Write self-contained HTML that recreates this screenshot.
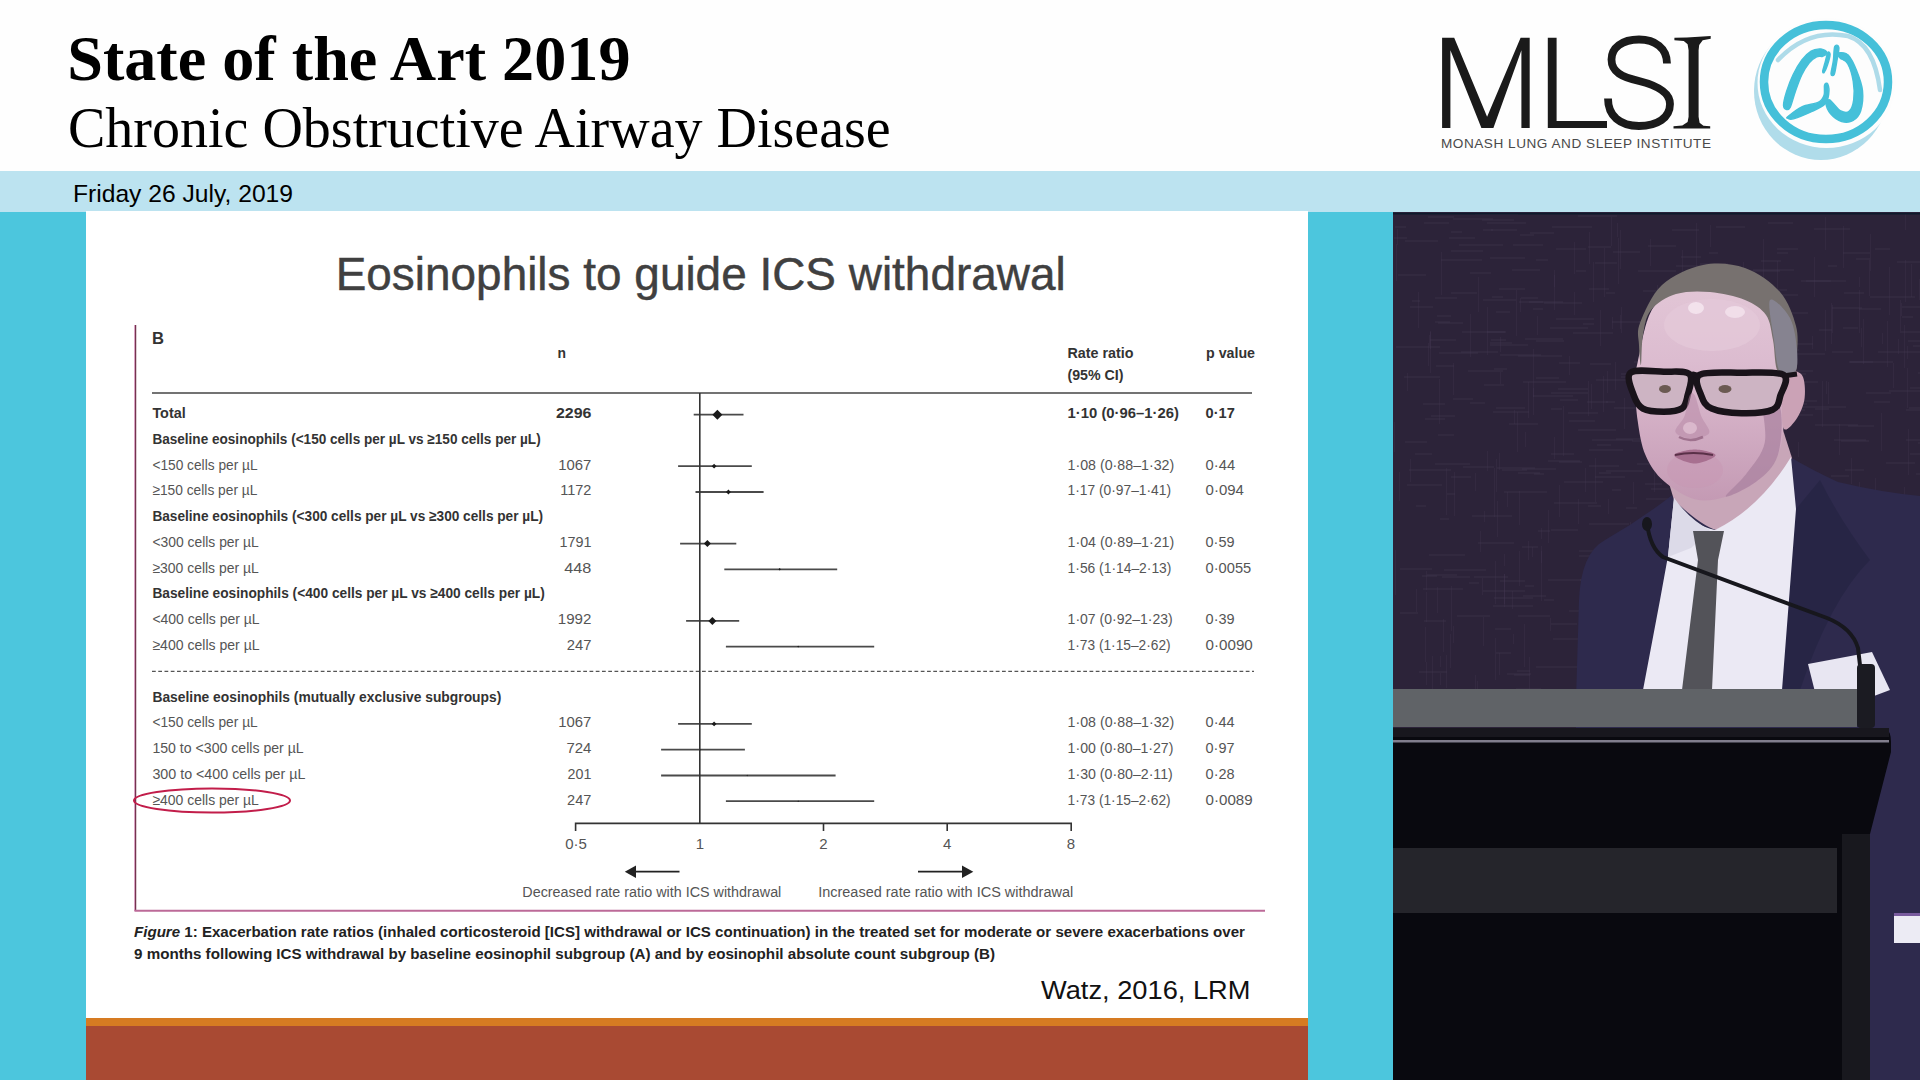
<!DOCTYPE html>
<html><head><meta charset="utf-8">
<style>
html,body{margin:0;padding:0;}
body{width:1920px;height:1080px;overflow:hidden;position:relative;background:#fff;font-family:"Liberation Sans",sans-serif;}
.abs{position:absolute;}
svg{position:absolute;left:0;top:0;}
</style></head><body>
<div class="abs" style="left:0;top:0;width:1920px;height:171px;background:#fefefe"></div>
<div class="abs" style="left:0;top:171px;width:1920px;height:41px;background:#bce3f0"></div>
<div class="abs" style="left:0;top:212px;width:86px;height:868px;background:#4cc6dd"></div>
<div class="abs" style="left:86px;top:211px;width:1222px;height:807px;background:#fff"></div>
<div class="abs" style="left:86px;top:1018px;width:1222px;height:8px;background:#d67b22"></div>
<div class="abs" style="left:86px;top:1026px;width:1222px;height:54px;background:#a94a33"></div>
<div class="abs" style="left:1308px;top:212px;width:85px;height:868px;background:#4cc6dd"></div>
<div class="abs" style="left:1393px;top:212px;width:527px;height:868px;background:#29223a"></div>

<svg width="1920" height="1080" viewBox="0 0 1920 1080">
<text x="67.2" y="80" font-family="Liberation Serif" font-weight="bold" font-size="64.2" fill="#000">State of the Art 2019</text>
<text x="68" y="147.2" font-family="Liberation Serif" font-size="56" fill="#000">Chronic Obstructive Airway Disease</text>
<text x="73" y="201.6" font-family="Liberation Sans" font-size="24.6" fill="#000" textLength="220" lengthAdjust="spacingAndGlyphs">Friday 26 July, 2019</text>
<text x="335.7" y="290.4" font-family="Liberation Sans" font-size="45.5" fill="#404040" textLength="730.0" lengthAdjust="spacingAndGlyphs" stroke="#404040" stroke-width="0.45">Eosinophils to guide ICS withdrawal</text>
<line x1="134.5" y1="325" x2="134.5" y2="911" stroke="#e0aacb" stroke-width="1"/><line x1="135.6" y1="325" x2="135.6" y2="911" stroke="#74344f" stroke-width="1.3"/>
<line x1="134.5" y1="910.8" x2="1265" y2="910.8" stroke="#bc6a98" stroke-width="2"/>
<text x="152.0" y="344.4" font-family="Liberation Sans" font-size="16.5" font-weight="bold" fill="#333" textLength="12.0" lengthAdjust="spacingAndGlyphs">B</text>
<text x="557.5" y="357.8" font-family="Liberation Sans" font-size="15" font-weight="bold" fill="#333" textLength="8.5" lengthAdjust="spacingAndGlyphs">n</text>
<text x="1067.5" y="358.3" font-family="Liberation Sans" font-size="15" font-weight="bold" fill="#333" textLength="66.0" lengthAdjust="spacingAndGlyphs">Rate ratio</text>
<text x="1067.5" y="380.4" font-family="Liberation Sans" font-size="15" font-weight="bold" fill="#333" textLength="56.0" lengthAdjust="spacingAndGlyphs">(95% CI)</text>
<text x="1206.0" y="358.3" font-family="Liberation Sans" font-size="15" font-weight="bold" fill="#333" textLength="49.0" lengthAdjust="spacingAndGlyphs">p value</text>
<line x1="152" y1="393" x2="1252" y2="393" stroke="#444" stroke-width="1.6"/>
<line x1="152" y1="671.4" x2="1254" y2="671.4" stroke="#555" stroke-width="1.4" stroke-dasharray="3.75 2.5"/>
<text x="152.4" y="418.0" font-family="Liberation Sans" font-size="15.2" font-weight="bold" fill="#333" textLength="33.3" lengthAdjust="spacingAndGlyphs">Total</text>
<text x="555.9" y="418.0" font-family="Liberation Sans" font-size="15.2" font-weight="bold" fill="#333" textLength="35.5" lengthAdjust="spacingAndGlyphs">2296</text>
<text x="1067.6" y="418.0" font-family="Liberation Sans" font-size="15.2" font-weight="bold" fill="#333" textLength="111.3" lengthAdjust="spacingAndGlyphs">1·10 (0·96–1·26)</text>
<text x="1205.6" y="418.0" font-family="Liberation Sans" font-size="15.2" font-weight="bold" fill="#333" textLength="29.2" lengthAdjust="spacingAndGlyphs">0·17</text>
<line x1="693.7" y1="414.7" x2="743.5" y2="414.7" stroke="#4a4a4a" stroke-width="1.8"/>
<polygon points="712.4,414.7 717.4,409.7 722.4,414.7 717.4,419.7" fill="#1a1a1a"/>
<text x="152.4" y="443.8" font-family="Liberation Sans" font-size="15.2" font-weight="bold" fill="#333" textLength="388.3" lengthAdjust="spacingAndGlyphs">Baseline eosinophils (&lt;150 cells per µL vs ≥150 cells per µL)</text>
<text x="152.4" y="469.5" font-family="Liberation Sans" font-size="15.2" fill="#555" textLength="105.2" lengthAdjust="spacingAndGlyphs">&lt;150 cells per µL</text>
<text x="558.3" y="469.5" font-family="Liberation Sans" font-size="15.2" fill="#555" textLength="33.1" lengthAdjust="spacingAndGlyphs">1067</text>
<text x="1067.6" y="469.5" font-family="Liberation Sans" font-size="15.2" fill="#555" textLength="106.6" lengthAdjust="spacingAndGlyphs">1·08 (0·88–1·32)</text>
<text x="1205.6" y="469.5" font-family="Liberation Sans" font-size="15.2" fill="#555" textLength="29.5" lengthAdjust="spacingAndGlyphs">0·44</text>
<line x1="678.1" y1="466.2" x2="751.8" y2="466.2" stroke="#4a4a4a" stroke-width="1.8"/>
<polygon points="711.7,466.2 714.1,463.8 716.5,466.2 714.1,468.6" fill="#1a1a1a"/>
<text x="152.4" y="495.3" font-family="Liberation Sans" font-size="15.2" fill="#555" textLength="105.0" lengthAdjust="spacingAndGlyphs">≥150 cells per µL</text>
<text x="560.2" y="495.3" font-family="Liberation Sans" font-size="15.2" fill="#555" textLength="31.2" lengthAdjust="spacingAndGlyphs">1172</text>
<text x="1067.6" y="495.3" font-family="Liberation Sans" font-size="15.2" fill="#555" textLength="103.4" lengthAdjust="spacingAndGlyphs">1·17 (0·97–1·41)</text>
<text x="1205.6" y="495.3" font-family="Liberation Sans" font-size="15.2" fill="#555" textLength="38.3" lengthAdjust="spacingAndGlyphs">0·094</text>
<line x1="695.5" y1="492.0" x2="763.6" y2="492.0" stroke="#4a4a4a" stroke-width="1.8"/>
<polygon points="726.0,492.0 728.4,489.6 730.8,492.0 728.4,494.4" fill="#1a1a1a"/>
<text x="152.4" y="521.1" font-family="Liberation Sans" font-size="15.2" font-weight="bold" fill="#333" textLength="390.7" lengthAdjust="spacingAndGlyphs">Baseline eosinophils (&lt;300 cells per µL vs ≥300 cells per µL)</text>
<text x="152.4" y="546.9" font-family="Liberation Sans" font-size="15.2" fill="#555" textLength="106.4" lengthAdjust="spacingAndGlyphs">&lt;300 cells per µL</text>
<text x="559.4" y="546.9" font-family="Liberation Sans" font-size="15.2" fill="#555" textLength="32.0" lengthAdjust="spacingAndGlyphs">1791</text>
<text x="1067.6" y="546.9" font-family="Liberation Sans" font-size="15.2" fill="#555" textLength="106.6" lengthAdjust="spacingAndGlyphs">1·04 (0·89–1·21)</text>
<text x="1205.6" y="546.9" font-family="Liberation Sans" font-size="15.2" fill="#555" textLength="28.9" lengthAdjust="spacingAndGlyphs">0·59</text>
<line x1="680.1" y1="543.6" x2="736.3" y2="543.6" stroke="#4a4a4a" stroke-width="1.8"/>
<polygon points="703.9,543.6 707.4,540.1 710.9,543.6 707.4,547.1" fill="#1a1a1a"/>
<text x="152.4" y="572.6" font-family="Liberation Sans" font-size="15.2" fill="#555" textLength="106.4" lengthAdjust="spacingAndGlyphs">≥300 cells per µL</text>
<text x="564.3" y="572.6" font-family="Liberation Sans" font-size="15.2" fill="#555" textLength="27.1" lengthAdjust="spacingAndGlyphs">448</text>
<text x="1067.6" y="572.6" font-family="Liberation Sans" font-size="15.2" fill="#555" textLength="103.8" lengthAdjust="spacingAndGlyphs">1·56 (1·14–2·13)</text>
<text x="1205.6" y="572.6" font-family="Liberation Sans" font-size="15.2" fill="#555" textLength="45.6" lengthAdjust="spacingAndGlyphs">0·0055</text>
<line x1="724.3" y1="569.3" x2="837.2" y2="569.3" stroke="#4a4a4a" stroke-width="1.8"/>
<polygon points="778.5,569.3 779.7,568.1 780.9,569.3 779.7,570.5" fill="#1a1a1a"/>
<text x="152.4" y="598.4" font-family="Liberation Sans" font-size="15.2" font-weight="bold" fill="#333" textLength="392.4" lengthAdjust="spacingAndGlyphs">Baseline eosinophils (&lt;400 cells per µL vs ≥400 cells per µL)</text>
<text x="152.4" y="624.2" font-family="Liberation Sans" font-size="15.2" fill="#555" textLength="107.2" lengthAdjust="spacingAndGlyphs">&lt;400 cells per µL</text>
<text x="557.8" y="624.2" font-family="Liberation Sans" font-size="15.2" fill="#555" textLength="33.6" lengthAdjust="spacingAndGlyphs">1992</text>
<text x="1067.6" y="624.2" font-family="Liberation Sans" font-size="15.2" fill="#555" textLength="105.2" lengthAdjust="spacingAndGlyphs">1·07 (0·92–1·23)</text>
<text x="1205.6" y="624.2" font-family="Liberation Sans" font-size="15.2" fill="#555" textLength="29.0" lengthAdjust="spacingAndGlyphs">0·39</text>
<line x1="686.1" y1="620.9" x2="739.2" y2="620.9" stroke="#4a4a4a" stroke-width="1.8"/>
<polygon points="708.4,620.9 712.4,616.9 716.4,620.9 712.4,624.9" fill="#1a1a1a"/>
<text x="152.4" y="649.9" font-family="Liberation Sans" font-size="15.2" fill="#555" textLength="107.2" lengthAdjust="spacingAndGlyphs">≥400 cells per µL</text>
<text x="566.7" y="649.9" font-family="Liberation Sans" font-size="15.2" fill="#555" textLength="24.7" lengthAdjust="spacingAndGlyphs">247</text>
<text x="1067.6" y="649.9" font-family="Liberation Sans" font-size="15.2" fill="#555" textLength="103.0" lengthAdjust="spacingAndGlyphs">1·73 (1·15–2·62)</text>
<text x="1205.6" y="649.9" font-family="Liberation Sans" font-size="15.2" fill="#555" textLength="47.2" lengthAdjust="spacingAndGlyphs">0·0090</text>
<line x1="725.9" y1="646.6" x2="874.2" y2="646.6" stroke="#4a4a4a" stroke-width="1.8"/>
<polygon points="797.2,646.6 798.2,645.7 799.2,646.6 798.2,647.6" fill="#1a1a1a"/>
<text x="152.4" y="701.5" font-family="Liberation Sans" font-size="15.2" font-weight="bold" fill="#333" textLength="348.9" lengthAdjust="spacingAndGlyphs">Baseline eosinophils (mutually exclusive subgroups)</text>
<text x="152.4" y="727.2" font-family="Liberation Sans" font-size="15.2" fill="#555" textLength="105.3" lengthAdjust="spacingAndGlyphs">&lt;150 cells per µL</text>
<text x="558.3" y="727.2" font-family="Liberation Sans" font-size="15.2" fill="#555" textLength="33.1" lengthAdjust="spacingAndGlyphs">1067</text>
<text x="1067.6" y="727.2" font-family="Liberation Sans" font-size="15.2" fill="#555" textLength="106.6" lengthAdjust="spacingAndGlyphs">1·08 (0·88–1·32)</text>
<text x="1205.6" y="727.2" font-family="Liberation Sans" font-size="15.2" fill="#555" textLength="29.0" lengthAdjust="spacingAndGlyphs">0·44</text>
<line x1="678.1" y1="723.9" x2="751.8" y2="723.9" stroke="#4a4a4a" stroke-width="1.8"/>
<polygon points="711.7,723.9 714.1,721.5 716.5,723.9 714.1,726.3" fill="#1a1a1a"/>
<text x="152.4" y="753.0" font-family="Liberation Sans" font-size="15.2" fill="#555" textLength="151.3" lengthAdjust="spacingAndGlyphs">150 to &lt;300 cells per µL</text>
<text x="566.4" y="753.0" font-family="Liberation Sans" font-size="15.2" fill="#555" textLength="25.0" lengthAdjust="spacingAndGlyphs">724</text>
<text x="1067.6" y="753.0" font-family="Liberation Sans" font-size="15.2" fill="#555" textLength="105.8" lengthAdjust="spacingAndGlyphs">1·00 (0·80–1·27)</text>
<text x="1205.6" y="753.0" font-family="Liberation Sans" font-size="15.2" fill="#555" textLength="28.9" lengthAdjust="spacingAndGlyphs">0·97</text>
<line x1="661.1" y1="749.7" x2="744.9" y2="749.7" stroke="#4a4a4a" stroke-width="1.8"/>
<polygon points="699.6,749.7 700.4,749.0 701.1,749.7 700.4,750.4" fill="#1a1a1a"/>
<text x="152.4" y="778.8" font-family="Liberation Sans" font-size="15.2" fill="#555" textLength="153.0" lengthAdjust="spacingAndGlyphs">300 to &lt;400 cells per µL</text>
<text x="567.6" y="778.8" font-family="Liberation Sans" font-size="15.2" fill="#555" textLength="23.8" lengthAdjust="spacingAndGlyphs">201</text>
<text x="1067.6" y="778.8" font-family="Liberation Sans" font-size="15.2" fill="#555" textLength="105.2" lengthAdjust="spacingAndGlyphs">1·30 (0·80–2·11)</text>
<text x="1205.6" y="778.8" font-family="Liberation Sans" font-size="15.2" fill="#555" textLength="29.0" lengthAdjust="spacingAndGlyphs">0·28</text>
<line x1="661.1" y1="775.5" x2="835.6" y2="775.5" stroke="#4a4a4a" stroke-width="1.8"/>
<polygon points="746.5,775.5 747.2,774.8 747.9,775.5 747.2,776.2" fill="#1a1a1a"/>
<text x="152.4" y="804.5" font-family="Liberation Sans" font-size="15.2" fill="#555" textLength="106.5" lengthAdjust="spacingAndGlyphs">≥400 cells per µL</text>
<text x="567.1" y="804.5" font-family="Liberation Sans" font-size="15.2" fill="#555" textLength="24.3" lengthAdjust="spacingAndGlyphs">247</text>
<text x="1067.6" y="804.5" font-family="Liberation Sans" font-size="15.2" fill="#555" textLength="103.0" lengthAdjust="spacingAndGlyphs">1·73 (1·15–2·62)</text>
<text x="1205.6" y="804.5" font-family="Liberation Sans" font-size="15.2" fill="#555" textLength="47.0" lengthAdjust="spacingAndGlyphs">0·0089</text>
<line x1="725.9" y1="801.2" x2="874.2" y2="801.2" stroke="#4a4a4a" stroke-width="1.8"/>
<polygon points="797.5,801.2 798.2,800.5 798.9,801.2 798.2,802.0" fill="#1a1a1a"/>
<line x1="699.8" y1="393" x2="699.8" y2="824" stroke="#333" stroke-width="1.6"/>
<path d="M575.6,831 V823.4 H1071.2 V831" fill="none" stroke="#333" stroke-width="1.6"/>
<line x1="823.5" y1="823.4" x2="823.5" y2="831" stroke="#333" stroke-width="1.6"/>
<line x1="947.2" y1="823.4" x2="947.2" y2="831" stroke="#333" stroke-width="1.6"/>
<text x="576.0" y="849.0" font-family="Liberation Sans" font-size="15" fill="#555" text-anchor="middle">0·5</text>
<text x="699.8" y="849.0" font-family="Liberation Sans" font-size="15" fill="#555" text-anchor="middle">1</text>
<text x="823.5" y="849.0" font-family="Liberation Sans" font-size="15" fill="#555" text-anchor="middle">2</text>
<text x="947.2" y="849.0" font-family="Liberation Sans" font-size="15" fill="#555" text-anchor="middle">4</text>
<text x="1071.0" y="849.0" font-family="Liberation Sans" font-size="15" fill="#555" text-anchor="middle">8</text>
<line x1="634" y1="871.7" x2="679.5" y2="871.7" stroke="#222" stroke-width="1.8"/>
<polygon points="624.8,871.7 636,865.5 636,877.9" fill="#222"/>
<line x1="918" y1="871.7" x2="963" y2="871.7" stroke="#222" stroke-width="1.8"/>
<polygon points="973.3,871.7 962,865.5 962,877.9" fill="#222"/>
<text x="522.3" y="897.4" font-family="Liberation Sans" font-size="15.2" fill="#555" textLength="259.0" lengthAdjust="spacingAndGlyphs">Decreased rate ratio with ICS withdrawal</text>
<text x="818.2" y="897.4" font-family="Liberation Sans" font-size="15.2" fill="#555" textLength="255.0" lengthAdjust="spacingAndGlyphs">Increased rate ratio with ICS withdrawal</text>
<ellipse cx="212" cy="800.5" rx="78" ry="12" fill="none" stroke="#c21d4a" stroke-width="2"/>
<text x="134" y="936.7" font-family="Liberation Sans" font-size="14.6" font-weight="bold" fill="#222" textLength="1111" lengthAdjust="spacingAndGlyphs"><tspan font-style="italic">Figure</tspan> 1: Exacerbation rate ratios (inhaled corticosteroid [ICS] withdrawal or ICS continuation) in the treated set for moderate or severe exacerbations over</text>
<text x="134.0" y="959.2" font-family="Liberation Sans" font-size="14.6" font-weight="bold" fill="#222" textLength="861.0" lengthAdjust="spacingAndGlyphs">9 months following ICS withdrawal by baseline eosinophil subgroup (A) and by eosinophil absolute count subgroup (B)</text>
<text x="1041.0" y="998.6" font-family="Liberation Sans" font-size="25.5" fill="#111" textLength="209.5" lengthAdjust="spacingAndGlyphs">Watz, 2016, LRM</text>
</svg>
<svg width="1920" height="1080" viewBox="0 0 1920 1080">
<polygon points="1442.1,37.8 1454.2,37.8 1487.1,116.7 1520.6,37.8 1529.7,37.8 1529.7,128.0 1521.4,128.0 1521.4,50.2 1493.4,128.0 1481.4,128.0 1450.4,50.2 1450.4,128.0 1442.1,128.0" fill="#1a1a1a"/>
<polygon points="1547.8,37.8 1556.6,37.8 1556.6,120.9 1607.0,120.9 1607.0,128.0 1547.8,128.0" fill="#1a1a1a"/>
<path d="M1667,63.5 C1667,48 1655,39.5 1639,39.5 C1622,39.5 1611.5,48 1611.5,59.5 C1611.5,72 1622,77 1639,81 C1657,85.5 1670,92 1670,104 C1670,118 1657,126 1639,126 C1620,126 1608,116 1608,98.5" fill="none" stroke="#1a1a1a" stroke-width="7.8"/>
<polygon points="1674.4,37.8 1686.8,37.5 1710.7,36.0 1710.7,38.7 1702.7,40.2 1699.2,44.9 1698.6,50.2 1698.6,116.7 1699.6,122.7 1703.4,125.7 1710.2,126.3 1710.2,128.5 1673.5,128.5 1673.5,126.3 1682.3,125.4 1687.6,122.1 1688.6,116.7 1688.6,50.2 1687.6,44.2 1683.8,41.1 1674.4,40.2" fill="#1a1a1a"/>
<text x="1441" y="148.4" font-family="Liberation Sans" font-size="13.6" fill="#4a4a4a" textLength="270" lengthAdjust="spacing">MONASH LUNG AND SLEEP INSTITUTE</text>
<ellipse cx="1821" cy="91" rx="67" ry="69" fill="#b0dcea"/>
<ellipse cx="1826.5" cy="83" rx="69" ry="65" fill="#fdfdfd"/>
<ellipse cx="1826" cy="82" rx="62" ry="57" fill="none" stroke="#45c0d9" stroke-width="8.5"/>
<path d="M1778,60 Q1808,28 1848,36 Q1874,44 1880,90" fill="none" stroke="#aedbe9" stroke-width="4.5" stroke-linecap="round"/>
<path d="M1819.44,48.89 C1817.13,49.04 1814.04,49.35 1811.11,51.20 C1808.18,53.06 1804.86,56.06 1801.85,60.00 C1798.84,63.94 1795.60,69.57 1793.06,74.81 C1790.51,80.06 1788.16,86.39 1786.57,91.48 C1784.98,96.57 1783.52,102.36 1783.52,105.37 C1783.52,108.38 1785.45,109.23 1786.57,109.54 C1787.70,109.85 1788.81,110.23 1790.28,107.22 C1791.74,104.21 1793.44,96.88 1795.37,91.48 C1797.30,86.08 1799.54,79.60 1801.85,74.81 C1804.17,70.03 1806.79,65.79 1809.26,62.78 C1811.73,59.77 1814.43,57.84 1816.67,56.76 C1818.90,55.68 1820.99,56.84 1822.69,56.30 C1824.38,55.76 1826.47,54.52 1826.85,53.52 C1827.24,52.52 1826.23,51.05 1825.00,50.28 C1823.77,49.51 1821.76,48.73 1819.44,48.89 Z" fill="#45c0d9" stroke="#45c0d9" stroke-width="1.4" stroke-linejoin="round"/>
<path d="M1827.78,52.59 C1828.63,51.20 1830.17,52.28 1830.09,54.44 C1830.02,56.60 1828.32,62.55 1827.31,65.56 C1826.31,68.56 1824.85,71.57 1824.07,72.50 C1823.30,73.43 1822.53,72.73 1822.69,71.11 C1822.84,69.49 1824.15,65.86 1825.00,62.78 C1825.85,59.69 1826.93,53.98 1827.78,52.59 Z" fill="#45c0d9" stroke="#45c0d9" stroke-width="1.4" stroke-linejoin="round"/>
<path d="M1787.96,116.48 C1790.28,114.55 1796.76,109.15 1801.85,106.76 C1806.94,104.37 1814.81,104.06 1818.52,102.13 C1822.22,100.20 1823.07,98.04 1824.07,95.19 C1825.08,92.33 1823.92,86.85 1824.54,85.00 C1825.15,83.15 1827.08,82.53 1827.78,84.07 C1828.47,85.62 1829.17,90.94 1828.70,94.26 C1828.24,97.58 1827.78,101.13 1825.00,103.98 C1822.22,106.84 1817.28,108.92 1812.04,111.39 C1806.79,113.86 1797.53,117.64 1793.52,118.80 C1789.51,119.95 1788.89,118.72 1787.96,118.33 C1787.04,117.95 1785.65,118.41 1787.96,116.48 Z" fill="#45c0d9" stroke="#45c0d9" stroke-width="1.4" stroke-linejoin="round"/>
<path d="M1834.72,46.57 C1835.65,44.34 1838.58,44.80 1838.89,47.50 C1839.20,50.20 1837.35,58.30 1836.57,62.78 C1835.80,67.25 1835.19,72.50 1834.26,74.35 C1833.33,76.20 1831.17,76.13 1831.02,73.89 C1830.86,71.65 1832.72,65.48 1833.33,60.93 C1833.95,56.37 1833.80,48.81 1834.72,46.57 Z" fill="#45c0d9" stroke="#45c0d9" stroke-width="1.4" stroke-linejoin="round"/>
<path d="M1840.28,52.59 C1841.98,52.67 1845.45,51.98 1848.15,54.91 C1850.85,57.84 1854.09,64.24 1856.48,70.19 C1858.87,76.13 1861.81,83.77 1862.50,90.56 C1863.19,97.35 1862.27,105.91 1860.65,110.93 C1859.03,115.94 1855.94,118.87 1852.78,120.65 C1849.61,122.42 1845.37,122.73 1841.67,121.57 C1837.96,120.42 1833.18,116.71 1830.56,113.70 C1827.93,110.69 1826.16,105.83 1825.93,103.52 C1825.69,101.20 1827.93,99.81 1829.17,99.81 C1830.40,99.81 1831.40,101.67 1833.33,103.52 C1835.26,105.37 1838.12,109.61 1840.74,110.93 C1843.36,112.24 1846.91,113.24 1849.07,111.39 C1851.23,109.54 1853.01,104.83 1853.70,99.81 C1854.40,94.80 1854.24,87.31 1853.24,81.30 C1852.24,75.28 1849.85,67.56 1847.69,63.70 C1845.52,59.85 1841.90,59.69 1840.28,58.15 C1838.66,56.60 1837.96,55.37 1837.96,54.44 C1837.96,53.52 1838.58,52.52 1840.28,52.59 Z" fill="#45c0d9" stroke="#45c0d9" stroke-width="1.4" stroke-linejoin="round"/>
</svg>
<svg width="1920" height="1080" viewBox="0 0 1920 1080">
<defs><clipPath id="pc"><rect x="1393" y="213" width="527" height="867"/></clipPath><linearGradient id="fg" x1="0" y1="0" x2="0" y2="1"><stop offset="0" stop-color="#e2c6d6"/><stop offset="0.35" stop-color="#dcbcd0"/><stop offset="0.6" stop-color="#d4b0c6"/><stop offset="1" stop-color="#c49ab4"/></linearGradient></defs>
<g clip-path="url(#pc)">
<rect x="1393" y="211" width="527" height="869" fill="#2c2339"/>
<rect x="1518" y="472" width="22" height="2" fill="#433850" opacity="0.3"/><rect x="1711" y="511" width="10" height="2" fill="#433850" opacity="0.3"/><rect x="1400" y="612" width="18" height="2" fill="#433850" opacity="0.3"/><rect x="1516" y="688" width="25" height="2" fill="#433850" opacity="0.3"/><rect x="1834" y="439" width="32" height="2" fill="#433850" opacity="0.3"/><rect x="1472" y="515" width="40" height="2" fill="#433850" opacity="0.3"/><rect x="1669" y="566" width="33" height="2" fill="#433850" opacity="0.3"/><rect x="1427" y="574" width="30" height="2" fill="#433850" opacity="0.3"/><rect x="1552" y="226" width="40" height="2" fill="#433850" opacity="0.3"/><rect x="1642" y="555" width="41" height="2" fill="#433850" opacity="0.3"/><rect x="1769" y="652" width="23" height="2" fill="#433850" opacity="0.3"/><rect x="1815" y="424" width="43" height="2" fill="#433850" opacity="0.3"/><rect x="1856" y="258" width="13" height="2" fill="#433850" opacity="0.3"/><rect x="1507" y="673" width="24" height="2" fill="#433850" opacity="0.3"/><rect x="1723" y="355" width="27" height="2" fill="#433850" opacity="0.3"/><rect x="1596" y="379" width="30" height="2" fill="#433850" opacity="0.3"/><rect x="1701" y="644" width="33" height="2" fill="#433850" opacity="0.3"/><rect x="1883" y="621" width="45" height="2" fill="#433850" opacity="0.3"/><rect x="1747" y="289" width="40" height="2" fill="#433850" opacity="0.3"/><rect x="1901" y="644" width="29" height="2" fill="#433850" opacity="0.3"/><rect x="1769" y="312" width="39" height="2" fill="#433850" opacity="0.3"/><rect x="1695" y="347" width="10" height="2" fill="#433850" opacity="0.3"/><rect x="1843" y="685" width="11" height="2" fill="#433850" opacity="0.3"/><rect x="1815" y="408" width="14" height="2" fill="#433850" opacity="0.3"/><rect x="1548" y="579" width="40" height="2" fill="#433850" opacity="0.3"/><rect x="1416" y="505" width="10" height="2" fill="#433850" opacity="0.3"/><rect x="1772" y="370" width="41" height="2" fill="#433850" opacity="0.3"/><rect x="1910" y="453" width="45" height="2" fill="#433850" opacity="0.3"/><rect x="1556" y="248" width="30" height="2" fill="#433850" opacity="0.3"/><rect x="1410" y="306" width="23" height="2" fill="#433850" opacity="0.3"/><rect x="1715" y="286" width="10" height="2" fill="#433850" opacity="0.3"/><rect x="1850" y="361" width="43" height="2" fill="#433850" opacity="0.3"/><rect x="1866" y="392" width="25" height="2" fill="#433850" opacity="0.3"/><rect x="1667" y="519" width="30" height="2" fill="#433850" opacity="0.3"/><rect x="1688" y="508" width="43" height="2" fill="#433850" opacity="0.3"/><rect x="1660" y="418" width="35" height="2" fill="#433850" opacity="0.3"/><rect x="1518" y="355" width="44" height="2" fill="#433850" opacity="0.3"/><rect x="1668" y="474" width="8" height="2" fill="#433850" opacity="0.3"/><rect x="1612" y="489" width="9" height="2" fill="#433850" opacity="0.3"/><rect x="1718" y="514" width="10" height="2" fill="#433850" opacity="0.3"/><rect x="1724" y="434" width="33" height="2" fill="#433850" opacity="0.3"/><rect x="1579" y="550" width="35" height="2" fill="#433850" opacity="0.3"/><rect x="1405" y="240" width="33" height="2" fill="#433850" opacity="0.3"/><rect x="1901" y="331" width="25" height="2" fill="#433850" opacity="0.3"/><rect x="1705" y="364" width="21" height="2" fill="#433850" opacity="0.3"/><rect x="1558" y="388" width="30" height="2" fill="#433850" opacity="0.3"/><rect x="1551" y="392" width="37" height="2" fill="#433850" opacity="0.3"/><rect x="1407" y="484" width="35" height="2" fill="#433850" opacity="0.3"/><rect x="1556" y="318" width="38" height="2" fill="#433850" opacity="0.3"/><rect x="1519" y="301" width="24" height="2" fill="#433850" opacity="0.3"/><rect x="1761" y="260" width="20" height="2" fill="#433850" opacity="0.3"/><rect x="1569" y="610" width="24" height="2" fill="#433850" opacity="0.3"/><rect x="1844" y="292" width="20" height="2" fill="#433850" opacity="0.3"/><rect x="1736" y="635" width="25" height="2" fill="#433850" opacity="0.3"/><rect x="1512" y="269" width="28" height="2" fill="#433850" opacity="0.3"/><rect x="1494" y="597" width="39" height="2" fill="#433850" opacity="0.3"/><rect x="1490" y="344" width="38" height="2" fill="#433850" opacity="0.3"/><rect x="1731" y="597" width="21" height="2" fill="#433850" opacity="0.3"/><rect x="1461" y="351" width="37" height="2" fill="#433850" opacity="0.3"/><rect x="1536" y="377" width="23" height="2" fill="#433850" opacity="0.3"/><rect x="1614" y="407" width="42" height="2" fill="#433850" opacity="0.3"/><rect x="1475" y="213" width="43" height="2" fill="#433850" opacity="0.3"/><rect x="1857" y="684" width="24" height="2" fill="#433850" opacity="0.3"/><rect x="1894" y="655" width="16" height="2" fill="#433850" opacity="0.3"/><rect x="1786" y="612" width="33" height="2" fill="#433850" opacity="0.3"/><rect x="1667" y="349" width="21" height="2" fill="#433850" opacity="0.3"/><rect x="1513" y="244" width="30" height="2" fill="#433850" opacity="0.3"/><rect x="1544" y="599" width="10" height="2" fill="#433850" opacity="0.3"/><rect x="1869" y="543" width="42" height="2" fill="#433850" opacity="0.3"/><rect x="1865" y="642" width="29" height="2" fill="#433850" opacity="0.3"/><rect x="1400" y="568" width="14" height="2" fill="#433850" opacity="0.3"/><rect x="1551" y="529" width="27" height="2" fill="#433850" opacity="0.3"/><rect x="1611" y="661" width="31" height="2" fill="#433850" opacity="0.3"/><rect x="1573" y="332" width="40" height="2" fill="#433850" opacity="0.3"/><rect x="1644" y="586" width="21" height="2" fill="#433850" opacity="0.3"/><rect x="1497" y="467" width="38" height="2" fill="#433850" opacity="0.3"/><rect x="1483" y="590" width="42" height="2" fill="#433850" opacity="0.3"/><rect x="1818" y="605" width="8" height="2" fill="#433850" opacity="0.3"/><rect x="1724" y="624" width="10" height="2" fill="#433850" opacity="0.3"/><rect x="1536" y="340" width="28" height="2" fill="#433850" opacity="0.3"/><rect x="1616" y="438" width="37" height="2" fill="#433850" opacity="0.3"/><rect x="1394" y="237" width="13" height="2" fill="#433850" opacity="0.3"/><rect x="1459" y="244" width="44" height="2" fill="#433850" opacity="0.3"/><rect x="1843" y="252" width="27" height="2" fill="#433850" opacity="0.3"/><rect x="1559" y="362" width="21" height="2" fill="#433850" opacity="0.3"/><rect x="1734" y="492" width="21" height="2" fill="#433850" opacity="0.3"/><rect x="1494" y="368" width="13" height="2" fill="#433850" opacity="0.3"/><rect x="1686" y="554" width="22" height="2" fill="#433850" opacity="0.3"/><rect x="1435" y="297" width="22" height="2" fill="#433850" opacity="0.3"/><rect x="1712" y="586" width="22" height="2" fill="#433850" opacity="0.3"/><rect x="1815" y="509" width="24" height="2" fill="#433850" opacity="0.3"/><rect x="1589" y="449" width="34" height="2" fill="#433850" opacity="0.3"/><rect x="1615" y="543" width="25" height="2" fill="#433850" opacity="0.3"/><rect x="1522" y="468" width="34" height="2" fill="#433850" opacity="0.3"/><rect x="1431" y="415" width="24" height="2" fill="#433850" opacity="0.3"/><rect x="1857" y="660" width="22" height="2" fill="#433850" opacity="0.3"/><rect x="1866" y="590" width="18" height="2" fill="#433850" opacity="0.3"/><rect x="1638" y="270" width="38" height="2" fill="#433850" opacity="0.3"/><rect x="1742" y="636" width="37" height="2" fill="#433850" opacity="0.3"/><rect x="1745" y="562" width="29" height="2" fill="#433850" opacity="0.3"/><rect x="1447" y="493" width="8" height="2" fill="#433850" opacity="0.3"/><rect x="1469" y="582" width="10" height="2" fill="#433850" opacity="0.3"/><rect x="1441" y="259" width="41" height="2" fill="#433850" opacity="0.3"/><rect x="1487" y="222" width="39" height="2" fill="#433850" opacity="0.3"/><rect x="1457" y="615" width="33" height="2" fill="#433850" opacity="0.3"/><rect x="1834" y="667" width="29" height="2" fill="#433850" opacity="0.3"/><rect x="1814" y="228" width="36" height="2" fill="#433850" opacity="0.3"/><rect x="1662" y="554" width="12" height="2" fill="#433850" opacity="0.3"/><rect x="1788" y="659" width="10" height="2" fill="#433850" opacity="0.3"/><rect x="1564" y="481" width="39" height="2" fill="#433850" opacity="0.3"/><rect x="1521" y="297" width="17" height="2" fill="#433850" opacity="0.3"/><rect x="1718" y="572" width="23" height="2" fill="#433850" opacity="0.3"/><rect x="1587" y="401" width="21" height="2" fill="#433850" opacity="0.3"/><rect x="1613" y="251" width="27" height="2" fill="#433850" opacity="0.3"/><rect x="1906" y="409" width="36" height="2" fill="#433850" opacity="0.3"/><rect x="1478" y="542" width="36" height="2" fill="#433850" opacity="0.3"/><rect x="1748" y="459" width="26" height="2" fill="#433850" opacity="0.3"/><rect x="1732" y="641" width="14" height="2" fill="#433850" opacity="0.3"/><rect x="1444" y="569" width="42" height="2" fill="#433850" opacity="0.3"/><rect x="1666" y="423" width="35" height="2" fill="#433850" opacity="0.3"/><rect x="1491" y="339" width="15" height="2" fill="#433850" opacity="0.3"/><rect x="1702" y="362" width="17" height="2" fill="#433850" opacity="0.3"/><rect x="1757" y="668" width="19" height="2" fill="#433850" opacity="0.3"/><rect x="1765" y="409" width="40" height="2" fill="#433850" opacity="0.3"/><rect x="1701" y="339" width="16" height="2" fill="#433850" opacity="0.3"/><rect x="1405" y="441" width="22" height="2" fill="#433850" opacity="0.3"/><rect x="1484" y="384" width="20" height="2" fill="#433850" opacity="0.3"/><rect x="1801" y="280" width="45" height="2" fill="#433850" opacity="0.3"/><rect x="1646" y="498" width="25" height="2" fill="#433850" opacity="0.3"/><rect x="1833" y="605" width="29" height="2" fill="#433850" opacity="0.3"/><rect x="1647" y="556" width="40" height="2" fill="#433850" opacity="0.3"/><rect x="1604" y="562" width="44" height="2" fill="#433850" opacity="0.3"/><rect x="1639" y="321" width="17" height="2" fill="#433850" opacity="0.3"/><rect x="1771" y="534" width="43" height="2" fill="#433850" opacity="0.3"/><rect x="1843" y="327" width="15" height="2" fill="#433850" opacity="0.3"/><rect x="1529" y="301" width="34" height="2" fill="#433850" opacity="0.3"/><rect x="1845" y="642" width="17" height="2" fill="#433850" opacity="0.3"/><rect x="1849" y="361" width="24" height="2" fill="#433850" opacity="0.3"/><rect x="1777" y="252" width="11" height="2" fill="#433850" opacity="0.3"/><rect x="1832" y="351" width="21" height="2" fill="#433850" opacity="0.3"/><rect x="1699" y="535" width="8" height="2" fill="#433850" opacity="0.3"/><rect x="1569" y="420" width="26" height="2" fill="#433850" opacity="0.3"/><rect x="1504" y="491" width="43" height="2" fill="#433850" opacity="0.3"/><rect x="1599" y="472" width="12" height="2" fill="#433850" opacity="0.3"/><rect x="1538" y="530" width="12" height="2" fill="#433850" opacity="0.3"/><rect x="1861" y="646" width="12" height="2" fill="#433850" opacity="0.3"/><rect x="1889" y="390" width="37" height="2" fill="#433850" opacity="0.3"/><rect x="1792" y="353" width="33" height="2" fill="#433850" opacity="0.3"/><rect x="1738" y="597" width="18" height="2" fill="#433850" opacity="0.3"/><rect x="1790" y="671" width="33" height="2" fill="#433850" opacity="0.3"/><rect x="1676" y="265" width="26" height="2" fill="#433850" opacity="0.3"/><rect x="1579" y="555" width="33" height="2" fill="#433850" opacity="0.3"/><rect x="1691" y="298" width="32" height="2" fill="#433850" opacity="0.3"/><rect x="1725" y="297" width="41" height="2" fill="#433850" opacity="0.3"/><rect x="1738" y="270" width="42" height="2" fill="#433850" opacity="0.3"/><rect x="1468" y="370" width="35" height="2" fill="#433850" opacity="0.3"/><rect x="1708" y="477" width="32" height="2" fill="#433850" opacity="0.3"/><rect x="1634" y="361" width="15" height="2" fill="#433850" opacity="0.3"/><rect x="1429" y="554" width="36" height="2" fill="#433850" opacity="0.3"/><rect x="1679" y="565" width="21" height="2" fill="#433850" opacity="0.3"/><rect x="1533" y="395" width="40" height="2" fill="#433850" opacity="0.3"/><rect x="1415" y="453" width="17" height="2" fill="#433850" opacity="0.3"/><rect x="1798" y="381" width="20" height="2" fill="#433850" opacity="0.3"/><rect x="1606" y="470" width="37" height="2" fill="#433850" opacity="0.3"/><rect x="1579" y="617" width="12" height="2" fill="#433850" opacity="0.3"/><rect x="1536" y="259" width="12" height="2" fill="#433850" opacity="0.3"/><rect x="1804" y="559" width="15" height="2" fill="#433850" opacity="0.3"/><rect x="1493" y="411" width="36" height="2" fill="#433850" opacity="0.3"/><rect x="1823" y="570" width="30" height="2" fill="#433850" opacity="0.3"/><rect x="1470" y="402" width="15" height="2" fill="#433850" opacity="0.3"/><rect x="1671" y="483" width="15" height="2" fill="#433850" opacity="0.3"/><rect x="1525" y="585" width="9" height="2" fill="#433850" opacity="0.3"/><rect x="1816" y="638" width="43" height="2" fill="#433850" opacity="0.3"/><rect x="1595" y="476" width="30" height="2" fill="#433850" opacity="0.3"/><rect x="1727" y="679" width="33" height="2" fill="#433850" opacity="0.3"/><rect x="1551" y="623" width="26" height="2" fill="#433850" opacity="0.3"/><rect x="1710" y="559" width="8" height="2" fill="#433850" opacity="0.3"/><rect x="1799" y="528" width="26" height="2" fill="#433850" opacity="0.3"/><rect x="1669" y="432" width="15" height="2" fill="#433850" opacity="0.3"/><rect x="1672" y="229" width="27" height="2" fill="#433850" opacity="0.3"/><rect x="1733" y="424" width="29" height="2" fill="#433850" opacity="0.3"/><rect x="1898" y="638" width="13" height="2" fill="#433850" opacity="0.3"/><rect x="1811" y="510" width="10" height="2" fill="#433850" opacity="0.3"/><rect x="1583" y="323" width="11" height="2" fill="#433850" opacity="0.3"/><rect x="1677" y="656" width="20" height="2" fill="#433850" opacity="0.3"/><rect x="1852" y="544" width="13" height="2" fill="#433850" opacity="0.3"/><rect x="1845" y="499" width="42" height="2" fill="#433850" opacity="0.3"/><rect x="1770" y="565" width="21" height="2" fill="#433850" opacity="0.3"/><rect x="1818" y="657" width="40" height="2" fill="#433850" opacity="0.3"/><rect x="1623" y="574" width="26" height="2" fill="#433850" opacity="0.3"/><rect x="1451" y="231" width="11" height="2" fill="#433850" opacity="0.3"/><rect x="1499" y="288" width="26" height="2" fill="#433850" opacity="0.3"/><rect x="1762" y="468" width="24" height="2" fill="#433850" opacity="0.3"/><rect x="1735" y="357" width="25" height="2" fill="#433850" opacity="0.3"/><rect x="1792" y="403" width="15" height="2" fill="#433850" opacity="0.3"/><rect x="1867" y="556" width="22" height="2" fill="#433850" opacity="0.3"/><rect x="1589" y="465" width="30" height="2" fill="#433850" opacity="0.3"/><rect x="1511" y="212" width="16" height="2" fill="#433850" opacity="0.3"/><rect x="1806" y="280" width="25" height="2" fill="#433850" opacity="0.3"/><rect x="1496" y="311" width="14" height="2" fill="#433850" opacity="0.3"/><rect x="1606" y="292" width="9" height="2" fill="#433850" opacity="0.3"/><rect x="1451" y="292" width="26" height="2" fill="#433850" opacity="0.3"/><rect x="1424" y="222" width="25" height="2" fill="#433850" opacity="0.3"/><rect x="1608" y="548" width="10" height="2" fill="#433850" opacity="0.3"/><rect x="1606" y="401" width="9" height="2" fill="#433850" opacity="0.3"/><rect x="1902" y="316" width="11" height="2" fill="#433850" opacity="0.3"/><rect x="1643" y="290" width="31" height="2" fill="#433850" opacity="0.3"/><rect x="1576" y="270" width="10" height="2" fill="#433850" opacity="0.3"/><rect x="1776" y="343" width="37" height="2" fill="#433850" opacity="0.3"/><rect x="1638" y="658" width="19" height="2" fill="#433850" opacity="0.3"/><rect x="1525" y="338" width="38" height="2" fill="#433850" opacity="0.3"/><rect x="1725" y="376" width="11" height="2" fill="#433850" opacity="0.3"/><rect x="1753" y="675" width="30" height="2" fill="#433850" opacity="0.3"/><rect x="1395" y="226" width="11" height="2" fill="#433850" opacity="0.3"/><rect x="1483" y="229" width="10" height="2" fill="#433850" opacity="0.3"/><rect x="1738" y="642" width="15" height="2" fill="#433850" opacity="0.3"/><rect x="1906" y="439" width="38" height="2" fill="#433850" opacity="0.3"/><rect x="1876" y="661" width="9" height="2" fill="#433850" opacity="0.3"/><rect x="1554" y="502" width="43" height="2" fill="#433850" opacity="0.3"/><rect x="1439" y="352" width="39" height="2" fill="#433850" opacity="0.3"/><rect x="1453" y="398" width="20" height="2" fill="#433850" opacity="0.3"/><rect x="1751" y="656" width="14" height="2" fill="#433850" opacity="0.3"/><rect x="1783" y="563" width="39" height="2" fill="#433850" opacity="0.3"/><rect x="1685" y="653" width="21" height="2" fill="#433850" opacity="0.3"/><rect x="1612" y="321" width="37" height="2" fill="#433850" opacity="0.3"/><rect x="1646" y="340" width="14" height="2" fill="#433850" opacity="0.3"/><rect x="1773" y="501" width="34" height="2" fill="#433850" opacity="0.3"/><rect x="1597" y="444" width="14" height="2" fill="#433850" opacity="0.3"/><rect x="1768" y="222" width="25" height="2" fill="#433850" opacity="0.3"/><rect x="1793" y="535" width="12" height="2" fill="#433850" opacity="0.3"/><rect x="1518" y="615" width="32" height="2" fill="#433850" opacity="0.3"/><rect x="1856" y="629" width="25" height="2" fill="#433850" opacity="0.3"/><rect x="1866" y="562" width="20" height="2" fill="#433850" opacity="0.3"/><rect x="1588" y="246" width="23" height="2" fill="#433850" opacity="0.3"/><rect x="1897" y="261" width="29" height="2" fill="#433850" opacity="0.3"/><rect x="1451" y="250" width="32" height="2" fill="#433850" opacity="0.3"/><rect x="1520" y="234" width="14" height="2" fill="#433850" opacity="0.3"/><rect x="1733" y="491" width="8" height="2" fill="#433850" opacity="0.3"/><rect x="1514" y="674" width="16" height="2" fill="#433850" opacity="0.3"/><rect x="1689" y="412" width="37" height="2" fill="#433850" opacity="0.3"/><rect x="1711" y="589" width="28" height="2" fill="#433850" opacity="0.3"/><rect x="1492" y="296" width="11" height="2" fill="#433850" opacity="0.3"/><rect x="1828" y="265" width="9" height="2" fill="#433850" opacity="0.3"/><rect x="1902" y="306" width="41" height="2" fill="#433850" opacity="0.3"/><rect x="1438" y="434" width="16" height="2" fill="#433850" opacity="0.3"/><rect x="1830" y="506" width="32" height="2" fill="#433850" opacity="0.3"/><rect x="1794" y="629" width="21" height="2" fill="#433850" opacity="0.3"/><rect x="1711" y="424" width="12" height="2" fill="#433850" opacity="0.3"/><rect x="1833" y="496" width="38" height="2" fill="#433850" opacity="0.3"/><rect x="1502" y="469" width="25" height="2" fill="#433850" opacity="0.3"/><rect x="1777" y="248" width="21" height="2" fill="#433850" opacity="0.3"/><rect x="1648" y="245" width="28" height="2" fill="#433850" opacity="0.3"/><rect x="1781" y="414" width="32" height="2" fill="#433850" opacity="0.3"/><rect x="1712" y="314" width="21" height="2" fill="#433850" opacity="0.3"/><rect x="1918" y="372" width="24" height="2" fill="#433850" opacity="0.3"/><rect x="1437" y="315" width="14" height="2" fill="#433850" opacity="0.3"/><rect x="1884" y="559" width="40" height="2" fill="#433850" opacity="0.3"/><rect x="1913" y="504" width="42" height="2" fill="#433850" opacity="0.3"/><rect x="1675" y="412" width="43" height="2" fill="#433850" opacity="0.3"/><rect x="1869" y="666" width="26" height="2" fill="#433850" opacity="0.3"/><rect x="1801" y="406" width="45" height="2" fill="#433850" opacity="0.3"/><rect x="1878" y="351" width="43" height="2" fill="#433850" opacity="0.3"/><rect x="1490" y="257" width="35" height="2" fill="#433850" opacity="0.3"/><rect x="1548" y="460" width="32" height="2" fill="#433850" opacity="0.3"/><rect x="1414" y="568" width="18" height="2" fill="#433850" opacity="0.3"/><rect x="1621" y="376" width="35" height="2" fill="#433850" opacity="0.3"/><rect x="1787" y="349" width="12" height="2" fill="#433850" opacity="0.3"/><rect x="1551" y="408" width="11" height="2" fill="#433850" opacity="0.3"/><rect x="1474" y="576" width="34" height="2" fill="#433850" opacity="0.3"/><rect x="1908" y="680" width="40" height="2" fill="#433850" opacity="0.3"/><rect x="1589" y="288" width="20" height="2" fill="#433850" opacity="0.3"/><rect x="1637" y="463" width="28" height="2" fill="#433850" opacity="0.3"/><rect x="1583" y="619" width="19" height="2" fill="#433850" opacity="0.3"/><rect x="1637" y="636" width="38" height="2" fill="#433850" opacity="0.3"/><rect x="1550" y="327" width="38" height="2" fill="#433850" opacity="0.3"/><rect x="1398" y="274" width="28" height="2" fill="#433850" opacity="0.3"/><rect x="1675" y="290" width="10" height="2" fill="#433850" opacity="0.3"/><rect x="1500" y="580" width="25" height="2" fill="#433850" opacity="0.3"/><rect x="1909" y="587" width="44" height="2" fill="#433850" opacity="0.3"/><rect x="1412" y="300" width="8" height="2" fill="#433850" opacity="0.3"/><rect x="1621" y="373" width="10" height="2" fill="#433850" opacity="0.3"/><rect x="1681" y="256" width="20" height="2" fill="#433850" opacity="0.3"/><rect x="1523" y="595" width="23" height="2" fill="#433850" opacity="0.3"/><rect x="1530" y="232" width="24" height="2" fill="#433850" opacity="0.3"/><rect x="1724" y="534" width="42" height="2" fill="#433850" opacity="0.3"/><rect x="1819" y="329" width="13" height="2" fill="#433850" opacity="0.3"/><rect x="1793" y="589" width="27" height="2" fill="#433850" opacity="0.3"/><rect x="1831" y="475" width="18" height="2" fill="#433850" opacity="0.3"/><rect x="1482" y="219" width="32" height="2" fill="#433850" opacity="0.3"/><rect x="1866" y="645" width="25" height="2" fill="#433850" opacity="0.3"/><rect x="1744" y="656" width="38" height="2" fill="#433850" opacity="0.3"/><rect x="1711" y="410" width="27" height="2" fill="#433850" opacity="0.3"/><rect x="1483" y="299" width="33" height="2" fill="#433850" opacity="0.3"/><rect x="1916" y="473" width="23" height="2" fill="#433850" opacity="0.3"/><rect x="1578" y="429" width="38" height="2" fill="#433850" opacity="0.3"/><rect x="1631" y="670" width="14" height="2" fill="#433850" opacity="0.3"/><rect x="1559" y="461" width="23" height="2" fill="#433850" opacity="0.3"/><rect x="1842" y="607" width="42" height="2" fill="#433850" opacity="0.3"/><rect x="1716" y="226" width="29" height="2" fill="#433850" opacity="0.3"/><rect x="1683" y="445" width="18" height="2" fill="#433850" opacity="0.3"/><rect x="1767" y="648" width="12" height="2" fill="#433850" opacity="0.3"/><rect x="1745" y="389" width="27" height="2" fill="#433850" opacity="0.3"/><rect x="1865" y="671" width="32" height="2" fill="#433850" opacity="0.3"/><rect x="1496" y="652" width="15" height="2" fill="#433850" opacity="0.3"/><rect x="1595" y="608" width="20" height="2" fill="#433850" opacity="0.3"/><rect x="1536" y="666" width="43" height="2" fill="#433850" opacity="0.3"/><rect x="1560" y="399" width="18" height="2" fill="#433850" opacity="0.3"/><rect x="1462" y="331" width="44" height="2" fill="#433850" opacity="0.3"/><rect x="1435" y="321" width="15" height="2" fill="#433850" opacity="0.3"/><rect x="1435" y="463" width="35" height="2" fill="#433850" opacity="0.3"/><rect x="1835" y="513" width="38" height="2" fill="#433850" opacity="0.3"/><rect x="1396" y="346" width="44" height="2" fill="#433850" opacity="0.3"/><rect x="1430" y="339" width="26" height="2" fill="#433850" opacity="0.3"/><rect x="1534" y="473" width="10" height="2" fill="#433850" opacity="0.3"/><rect x="1517" y="670" width="13" height="2" fill="#433850" opacity="0.3"/><rect x="1870" y="296" width="45" height="2" fill="#433850" opacity="0.3"/><rect x="1749" y="521" width="13" height="2" fill="#433850" opacity="0.3"/><rect x="1422" y="575" width="15" height="2" fill="#433850" opacity="0.3"/><rect x="1493" y="605" width="40" height="2" fill="#433850" opacity="0.3"/><rect x="1419" y="671" width="28" height="2" fill="#433850" opacity="0.3"/><rect x="1595" y="262" width="22" height="2" fill="#433850" opacity="0.3"/><rect x="1913" y="345" width="13" height="2" fill="#433850" opacity="0.3"/><rect x="1470" y="272" width="21" height="2" fill="#433850" opacity="0.3"/><rect x="1875" y="248" width="15" height="2" fill="#433850" opacity="0.3"/><rect x="1888" y="689" width="44" height="2" fill="#433850" opacity="0.3"/><rect x="1523" y="381" width="43" height="2" fill="#433850" opacity="0.3"/><rect x="1649" y="548" width="20" height="2" fill="#433850" opacity="0.3"/><rect x="1404" y="376" width="36" height="2" fill="#433850" opacity="0.3"/><rect x="1805" y="483" width="25" height="2" fill="#433850" opacity="0.3"/><rect x="1677" y="423" width="28" height="2" fill="#433850" opacity="0.3"/><rect x="1832" y="307" width="30" height="2" fill="#433850" opacity="0.3"/><rect x="1885" y="617" width="15" height="2" fill="#433850" opacity="0.3"/><rect x="1901" y="613" width="14" height="2" fill="#433850" opacity="0.3"/><rect x="1533" y="308" width="10" height="2" fill="#433850" opacity="0.3"/><rect x="1909" y="407" width="40" height="2" fill="#433850" opacity="0.3"/><rect x="1453" y="218" width="40" height="2" fill="#433850" opacity="0.3"/><rect x="1811" y="686" width="33" height="2" fill="#433850" opacity="0.3"/><rect x="1670" y="578" width="11" height="2" fill="#433850" opacity="0.3"/><rect x="1678" y="422" width="13" height="2" fill="#433850" opacity="0.3"/><rect x="1709" y="366" width="27" height="2" fill="#433850" opacity="0.3"/><rect x="1590" y="363" width="21" height="2" fill="#433850" opacity="0.3"/><rect x="1710" y="681" width="43" height="2" fill="#433850" opacity="0.3"/><rect x="1847" y="611" width="19" height="2" fill="#433850" opacity="0.3"/><rect x="1908" y="340" width="13" height="2" fill="#433850" opacity="0.3"/><rect x="1657" y="562" width="21" height="2" fill="#433850" opacity="0.3"/><rect x="1733" y="346" width="44" height="2" fill="#433850" opacity="0.3"/><rect x="1632" y="440" width="28" height="2" fill="#433850" opacity="0.3"/><rect x="1854" y="684" width="28" height="2" fill="#433850" opacity="0.3"/><rect x="1626" y="507" width="11" height="2" fill="#433850" opacity="0.3"/><rect x="1617" y="617" width="37" height="2" fill="#433850" opacity="0.3"/><rect x="1424" y="620" width="22" height="2" fill="#433850" opacity="0.3"/><rect x="1910" y="387" width="16" height="2" fill="#433850" opacity="0.3"/><rect x="1682" y="634" width="24" height="2" fill="#433850" opacity="0.3"/><rect x="1850" y="552" width="21" height="2" fill="#433850" opacity="0.3"/><rect x="1551" y="453" width="23" height="2" fill="#433850" opacity="0.3"/><rect x="1589" y="523" width="40" height="2" fill="#433850" opacity="0.3"/><rect x="1701" y="281" width="16" height="2" fill="#433850" opacity="0.3"/><rect x="1588" y="505" width="13" height="2" fill="#433850" opacity="0.3"/><rect x="1436" y="365" width="18" height="2" fill="#433850" opacity="0.3"/><rect x="1409" y="469" width="42" height="2" fill="#433850" opacity="0.3"/><rect x="1675" y="564" width="39" height="2" fill="#433850" opacity="0.3"/><rect x="1834" y="648" width="24" height="2" fill="#433850" opacity="0.3"/><rect x="1753" y="269" width="41" height="2" fill="#433850" opacity="0.3"/><rect x="1592" y="439" width="41" height="2" fill="#433850" opacity="0.3"/><rect x="1544" y="302" width="38" height="2" fill="#433850" opacity="0.3"/><rect x="1709" y="252" width="9" height="2" fill="#433850" opacity="0.3"/><rect x="1578" y="215" width="39" height="2" fill="#433850" opacity="0.3"/><rect x="1490" y="342" width="22" height="2" fill="#433850" opacity="0.3"/><rect x="1663" y="418" width="31" height="2" fill="#433850" opacity="0.3"/><rect x="1741" y="420" width="12" height="2" fill="#433850" opacity="0.3"/><rect x="1909" y="542" width="11" height="2" fill="#433850" opacity="0.3"/><rect x="1626" y="572" width="45" height="2" fill="#433850" opacity="0.3"/><rect x="1428" y="216" width="26" height="2" fill="#433850" opacity="0.3"/><rect x="1615" y="639" width="39" height="2" fill="#433850" opacity="0.3"/><rect x="1568" y="412" width="30" height="2" fill="#433850" opacity="0.3"/><rect x="1859" y="308" width="22" height="2" fill="#433850" opacity="0.3"/><rect x="1440" y="518" width="9" height="2" fill="#433850" opacity="0.3"/><rect x="1886" y="462" width="29" height="2" fill="#433850" opacity="0.3"/><rect x="1438" y="322" width="25" height="2" fill="#433850" opacity="0.3"/><rect x="1845" y="469" width="19" height="2" fill="#433850" opacity="0.3"/><rect x="1911" y="528" width="28" height="2" fill="#433850" opacity="0.3"/><rect x="1500" y="354" width="41" height="2" fill="#433850" opacity="0.3"/><rect x="1463" y="466" width="31" height="2" fill="#433850" opacity="0.3"/><rect x="1580" y="579" width="42" height="2" fill="#433850" opacity="0.3"/><rect x="1845" y="565" width="16" height="2" fill="#433850" opacity="0.3"/><rect x="1425" y="418" width="20" height="2" fill="#433850" opacity="0.3"/><rect x="1495" y="628" width="16" height="2" fill="#433850" opacity="0.3"/><rect x="1827" y="660" width="12" height="2" fill="#433850" opacity="0.3"/><rect x="1874" y="401" width="16" height="2" fill="#433850" opacity="0.3"/><rect x="1491" y="229" width="26" height="2" fill="#433850" opacity="0.3"/><rect x="1596" y="619" width="39" height="2" fill="#433850" opacity="0.3"/><rect x="1423" y="403" width="22" height="2" fill="#433850" opacity="0.3"/><rect x="1487" y="331" width="18" height="2" fill="#433850" opacity="0.3"/><rect x="1759" y="374" width="12" height="2" fill="#433850" opacity="0.3"/><rect x="1509" y="423" width="29" height="2" fill="#433850" opacity="0.3"/><rect x="1522" y="546" width="16" height="2" fill="#433850" opacity="0.3"/><rect x="1747" y="503" width="15" height="2" fill="#433850" opacity="0.3"/><rect x="1789" y="400" width="28" height="2" fill="#433850" opacity="0.3"/><rect x="1708" y="512" width="24" height="2" fill="#433850" opacity="0.3"/><rect x="1423" y="588" width="40" height="2" fill="#433850" opacity="0.3"/><rect x="1651" y="488" width="18" height="2" fill="#433850" opacity="0.3"/><rect x="1867" y="539" width="16" height="2" fill="#433850" opacity="0.3"/><rect x="1824" y="683" width="21" height="2" fill="#433850" opacity="0.3"/><rect x="1918" y="442" width="15" height="2" fill="#433850" opacity="0.3"/><rect x="1771" y="373" width="35" height="2" fill="#433850" opacity="0.3"/><rect x="1700" y="263" width="28" height="2" fill="#433850" opacity="0.3"/><rect x="1841" y="440" width="28" height="2" fill="#433850" opacity="0.3"/><rect x="1848" y="425" width="26" height="2" fill="#433850" opacity="0.3"/><rect x="1700" y="606" width="16" height="2" fill="#433850" opacity="0.3"/><rect x="1442" y="576" width="28" height="2" fill="#433850" opacity="0.3"/><rect x="1553" y="638" width="41" height="2" fill="#433850" opacity="0.3"/><rect x="1678" y="684" width="39" height="2" fill="#433850" opacity="0.3"/><rect x="1787" y="351" width="8" height="2" fill="#433850" opacity="0.3"/><rect x="1751" y="563" width="21" height="2" fill="#433850" opacity="0.3"/><rect x="1645" y="483" width="17" height="2" fill="#433850" opacity="0.3"/><rect x="1761" y="480" width="22" height="2" fill="#433850" opacity="0.3"/><rect x="1451" y="476" width="20" height="2" fill="#433850" opacity="0.3"/><rect x="1775" y="294" width="23" height="2" fill="#433850" opacity="0.3"/><rect x="1496" y="407" width="29" height="2" fill="#433850" opacity="0.3"/><rect x="1449" y="237" width="26" height="2" fill="#433850" opacity="0.3"/><rect x="1499" y="453" width="1" height="17" fill="#463c58" opacity="0.25"/><rect x="1446" y="468" width="1" height="47" fill="#463c58" opacity="0.25"/><rect x="1851" y="458" width="1" height="26" fill="#463c58" opacity="0.25"/><rect x="1428" y="343" width="1" height="23" fill="#463c58" opacity="0.25"/><rect x="1889" y="267" width="1" height="48" fill="#463c58" opacity="0.25"/><rect x="1644" y="419" width="1" height="20" fill="#463c58" opacity="0.25"/><rect x="1900" y="300" width="1" height="33" fill="#463c58" opacity="0.25"/><rect x="1662" y="307" width="1" height="19" fill="#463c58" opacity="0.25"/><rect x="1912" y="590" width="1" height="39" fill="#463c58" opacity="0.25"/><rect x="1869" y="258" width="1" height="38" fill="#463c58" opacity="0.25"/><rect x="1789" y="319" width="1" height="28" fill="#463c58" opacity="0.25"/><rect x="1907" y="368" width="1" height="40" fill="#463c58" opacity="0.25"/><rect x="1480" y="531" width="1" height="21" fill="#463c58" opacity="0.25"/><rect x="1661" y="389" width="1" height="45" fill="#463c58" opacity="0.25"/><rect x="1786" y="452" width="1" height="37" fill="#463c58" opacity="0.25"/><rect x="1618" y="596" width="1" height="20" fill="#463c58" opacity="0.25"/><rect x="1680" y="492" width="1" height="26" fill="#463c58" opacity="0.25"/><rect x="1418" y="292" width="1" height="36" fill="#463c58" opacity="0.25"/><rect x="1504" y="574" width="1" height="30" fill="#463c58" opacity="0.25"/><rect x="1895" y="617" width="1" height="39" fill="#463c58" opacity="0.25"/><rect x="1589" y="232" width="1" height="32" fill="#463c58" opacity="0.25"/><rect x="1786" y="652" width="1" height="18" fill="#463c58" opacity="0.25"/><rect x="1477" y="681" width="1" height="40" fill="#463c58" opacity="0.25"/><rect x="1648" y="565" width="1" height="16" fill="#463c58" opacity="0.25"/><rect x="1680" y="531" width="1" height="34" fill="#463c58" opacity="0.25"/><rect x="1478" y="277" width="1" height="35" fill="#463c58" opacity="0.25"/><rect x="1859" y="277" width="1" height="10" fill="#463c58" opacity="0.25"/><rect x="1437" y="587" width="1" height="26" fill="#463c58" opacity="0.25"/><rect x="1633" y="687" width="1" height="34" fill="#463c58" opacity="0.25"/><rect x="1532" y="547" width="1" height="10" fill="#463c58" opacity="0.25"/><rect x="1541" y="546" width="1" height="17" fill="#463c58" opacity="0.25"/><rect x="1410" y="459" width="1" height="23" fill="#463c58" opacity="0.25"/><rect x="1905" y="260" width="1" height="42" fill="#463c58" opacity="0.25"/><rect x="1598" y="597" width="1" height="28" fill="#463c58" opacity="0.25"/><rect x="1745" y="367" width="1" height="19" fill="#463c58" opacity="0.25"/><rect x="1631" y="594" width="1" height="24" fill="#463c58" opacity="0.25"/><rect x="1514" y="410" width="1" height="14" fill="#463c58" opacity="0.25"/><rect x="1559" y="485" width="1" height="32" fill="#463c58" opacity="0.25"/><rect x="1708" y="350" width="1" height="11" fill="#463c58" opacity="0.25"/><rect x="1407" y="373" width="1" height="18" fill="#463c58" opacity="0.25"/><rect x="1693" y="338" width="1" height="40" fill="#463c58" opacity="0.25"/><rect x="1710" y="528" width="1" height="39" fill="#463c58" opacity="0.25"/><rect x="1668" y="415" width="1" height="22" fill="#463c58" opacity="0.25"/><rect x="1426" y="592" width="1" height="30" fill="#463c58" opacity="0.25"/><rect x="1446" y="655" width="1" height="33" fill="#463c58" opacity="0.25"/><rect x="1722" y="421" width="1" height="15" fill="#463c58" opacity="0.25"/><rect x="1920" y="292" width="1" height="25" fill="#463c58" opacity="0.25"/><rect x="1920" y="269" width="1" height="30" fill="#463c58" opacity="0.25"/><rect x="1646" y="330" width="1" height="47" fill="#463c58" opacity="0.25"/><rect x="1611" y="217" width="1" height="29" fill="#463c58" opacity="0.25"/><rect x="1395" y="550" width="1" height="45" fill="#463c58" opacity="0.25"/><rect x="1870" y="234" width="1" height="37" fill="#463c58" opacity="0.25"/><rect x="1554" y="437" width="1" height="22" fill="#463c58" opacity="0.25"/><rect x="1554" y="275" width="1" height="35" fill="#463c58" opacity="0.25"/><rect x="1440" y="673" width="1" height="12" fill="#463c58" opacity="0.25"/><rect x="1901" y="303" width="1" height="13" fill="#463c58" opacity="0.25"/><rect x="1786" y="465" width="1" height="41" fill="#463c58" opacity="0.25"/><rect x="1661" y="513" width="1" height="13" fill="#463c58" opacity="0.25"/><rect x="1748" y="456" width="1" height="48" fill="#463c58" opacity="0.25"/><rect x="1396" y="244" width="1" height="37" fill="#463c58" opacity="0.25"/><rect x="1881" y="413" width="1" height="38" fill="#463c58" opacity="0.25"/><rect x="1688" y="398" width="1" height="29" fill="#463c58" opacity="0.25"/><rect x="1710" y="225" width="1" height="22" fill="#463c58" opacity="0.25"/><rect x="1782" y="335" width="1" height="29" fill="#463c58" opacity="0.25"/><rect x="1528" y="382" width="1" height="36" fill="#463c58" opacity="0.25"/><rect x="1785" y="669" width="1" height="29" fill="#463c58" opacity="0.25"/><rect x="1500" y="372" width="1" height="12" fill="#463c58" opacity="0.25"/><rect x="1519" y="491" width="1" height="34" fill="#463c58" opacity="0.25"/><rect x="1520" y="298" width="1" height="14" fill="#463c58" opacity="0.25"/><rect x="1487" y="451" width="1" height="20" fill="#463c58" opacity="0.25"/><rect x="1859" y="482" width="1" height="24" fill="#463c58" opacity="0.25"/><rect x="1620" y="230" width="1" height="39" fill="#463c58" opacity="0.25"/><rect x="1789" y="385" width="1" height="39" fill="#463c58" opacity="0.25"/><rect x="1537" y="316" width="1" height="19" fill="#463c58" opacity="0.25"/><rect x="1497" y="501" width="1" height="36" fill="#463c58" opacity="0.25"/><rect x="1777" y="261" width="1" height="41" fill="#463c58" opacity="0.25"/><rect x="1645" y="392" width="1" height="30" fill="#463c58" opacity="0.25"/><rect x="1621" y="307" width="1" height="26" fill="#463c58" opacity="0.25"/><rect x="1733" y="554" width="1" height="47" fill="#463c58" opacity="0.25"/><rect x="1495" y="638" width="1" height="42" fill="#463c58" opacity="0.25"/><rect x="1769" y="680" width="1" height="16" fill="#463c58" opacity="0.25"/><rect x="1802" y="642" width="1" height="15" fill="#463c58" opacity="0.25"/><rect x="1706" y="665" width="1" height="22" fill="#463c58" opacity="0.25"/><rect x="1844" y="645" width="1" height="27" fill="#463c58" opacity="0.25"/><rect x="1470" y="314" width="1" height="43" fill="#463c58" opacity="0.25"/><rect x="1615" y="362" width="1" height="28" fill="#463c58" opacity="0.25"/><rect x="1882" y="333" width="1" height="11" fill="#463c58" opacity="0.25"/><rect x="1893" y="363" width="1" height="25" fill="#463c58" opacity="0.25"/><rect x="1907" y="346" width="1" height="13" fill="#463c58" opacity="0.25"/><rect x="1861" y="328" width="1" height="19" fill="#463c58" opacity="0.25"/><rect x="1887" y="321" width="1" height="46" fill="#463c58" opacity="0.25"/><rect x="1569" y="356" width="1" height="19" fill="#463c58" opacity="0.25"/><rect x="1679" y="479" width="1" height="26" fill="#463c58" opacity="0.25"/><rect x="1660" y="354" width="1" height="44" fill="#463c58" opacity="0.25"/><rect x="1885" y="572" width="1" height="43" fill="#463c58" opacity="0.25"/><rect x="1430" y="331" width="1" height="18" fill="#463c58" opacity="0.25"/><rect x="1475" y="675" width="1" height="46" fill="#463c58" opacity="0.25"/><rect x="1875" y="478" width="1" height="15" fill="#463c58" opacity="0.25"/><rect x="1618" y="238" width="1" height="46" fill="#463c58" opacity="0.25"/><rect x="1533" y="349" width="1" height="48" fill="#463c58" opacity="0.25"/><rect x="1499" y="653" width="1" height="22" fill="#463c58" opacity="0.25"/><rect x="1743" y="262" width="1" height="46" fill="#463c58" opacity="0.25"/><rect x="1603" y="376" width="1" height="36" fill="#463c58" opacity="0.25"/><rect x="1706" y="331" width="1" height="15" fill="#463c58" opacity="0.25"/><rect x="1696" y="223" width="1" height="45" fill="#463c58" opacity="0.25"/><rect x="1574" y="292" width="1" height="23" fill="#463c58" opacity="0.25"/><rect x="1453" y="363" width="1" height="32" fill="#463c58" opacity="0.25"/><rect x="1607" y="371" width="1" height="22" fill="#463c58" opacity="0.25"/><rect x="1649" y="584" width="1" height="28" fill="#463c58" opacity="0.25"/><rect x="1798" y="442" width="1" height="15" fill="#463c58" opacity="0.25"/><rect x="1483" y="617" width="1" height="29" fill="#463c58" opacity="0.25"/><rect x="1595" y="458" width="1" height="44" fill="#463c58" opacity="0.25"/><rect x="1591" y="384" width="1" height="25" fill="#463c58" opacity="0.25"/><rect x="1399" y="472" width="1" height="29" fill="#463c58" opacity="0.25"/><rect x="1654" y="427" width="1" height="29" fill="#463c58" opacity="0.25"/><rect x="1770" y="300" width="1" height="49" fill="#463c58" opacity="0.25"/><rect x="1453" y="626" width="1" height="17" fill="#463c58" opacity="0.25"/><rect x="1812" y="336" width="1" height="13" fill="#463c58" opacity="0.25"/><rect x="1678" y="613" width="1" height="44" fill="#463c58" opacity="0.25"/><rect x="1855" y="680" width="1" height="12" fill="#463c58" opacity="0.25"/><rect x="1593" y="262" width="1" height="40" fill="#463c58" opacity="0.25"/><rect x="1631" y="567" width="1" height="42" fill="#463c58" opacity="0.25"/><rect x="1919" y="535" width="1" height="45" fill="#463c58" opacity="0.25"/><rect x="1682" y="250" width="1" height="46" fill="#463c58" opacity="0.25"/><rect x="1441" y="252" width="1" height="43" fill="#463c58" opacity="0.25"/><rect x="1541" y="528" width="1" height="11" fill="#463c58" opacity="0.25"/><rect x="1504" y="554" width="1" height="12" fill="#463c58" opacity="0.25"/><rect x="1662" y="660" width="1" height="19" fill="#463c58" opacity="0.25"/><rect x="1764" y="567" width="1" height="35" fill="#463c58" opacity="0.25"/><rect x="1797" y="545" width="1" height="11" fill="#463c58" opacity="0.25"/><rect x="1494" y="468" width="1" height="49" fill="#463c58" opacity="0.25"/><rect x="1507" y="492" width="1" height="15" fill="#463c58" opacity="0.25"/><rect x="1839" y="424" width="1" height="31" fill="#463c58" opacity="0.25"/><rect x="1746" y="276" width="1" height="39" fill="#463c58" opacity="0.25"/><rect x="1815" y="623" width="1" height="21" fill="#463c58" opacity="0.25"/><rect x="1516" y="290" width="1" height="46" fill="#463c58" opacity="0.25"/><rect x="1624" y="398" width="1" height="31" fill="#463c58" opacity="0.25"/><rect x="1761" y="363" width="1" height="23" fill="#463c58" opacity="0.25"/><rect x="1797" y="583" width="1" height="22" fill="#463c58" opacity="0.25"/><rect x="1432" y="656" width="1" height="39" fill="#463c58" opacity="0.25"/><rect x="1706" y="405" width="1" height="48" fill="#463c58" opacity="0.25"/><rect x="1620" y="315" width="1" height="14" fill="#463c58" opacity="0.25"/><rect x="1578" y="499" width="1" height="25" fill="#463c58" opacity="0.25"/><rect x="1892" y="522" width="1" height="28" fill="#463c58" opacity="0.25"/><rect x="1741" y="499" width="1" height="35" fill="#463c58" opacity="0.25"/><rect x="1654" y="462" width="1" height="30" fill="#463c58" opacity="0.25"/><rect x="1831" y="303" width="1" height="41" fill="#463c58" opacity="0.25"/><rect x="1550" y="618" width="1" height="13" fill="#463c58" opacity="0.25"/><rect x="1649" y="423" width="1" height="38" fill="#463c58" opacity="0.25"/><rect x="1500" y="337" width="1" height="15" fill="#463c58" opacity="0.25"/><rect x="1689" y="487" width="1" height="10" fill="#463c58" opacity="0.25"/><rect x="1487" y="307" width="1" height="48" fill="#463c58" opacity="0.25"/><rect x="1633" y="482" width="1" height="22" fill="#463c58" opacity="0.25"/><rect x="1741" y="600" width="1" height="37" fill="#463c58" opacity="0.25"/><rect x="1394" y="422" width="1" height="30" fill="#463c58" opacity="0.25"/><rect x="1416" y="589" width="1" height="23" fill="#463c58" opacity="0.25"/><rect x="1548" y="510" width="1" height="33" fill="#463c58" opacity="0.25"/><rect x="1655" y="623" width="1" height="31" fill="#463c58" opacity="0.25"/><rect x="1574" y="242" width="1" height="32" fill="#463c58" opacity="0.25"/><rect x="1585" y="468" width="1" height="24" fill="#463c58" opacity="0.25"/><rect x="1397" y="229" width="1" height="16" fill="#463c58" opacity="0.25"/><rect x="1443" y="619" width="1" height="33" fill="#463c58" opacity="0.25"/><rect x="1519" y="551" width="1" height="35" fill="#463c58" opacity="0.25"/><rect x="1426" y="571" width="1" height="19" fill="#463c58" opacity="0.25"/><rect x="1919" y="279" width="1" height="21" fill="#463c58" opacity="0.25"/><rect x="1524" y="624" width="1" height="43" fill="#463c58" opacity="0.25"/><rect x="1698" y="282" width="1" height="27" fill="#463c58" opacity="0.25"/><rect x="1763" y="239" width="1" height="47" fill="#463c58" opacity="0.25"/><rect x="1836" y="657" width="1" height="38" fill="#463c58" opacity="0.25"/><rect x="1718" y="678" width="1" height="21" fill="#463c58" opacity="0.25"/><rect x="1554" y="270" width="1" height="17" fill="#463c58" opacity="0.25"/><rect x="1814" y="257" width="1" height="40" fill="#463c58" opacity="0.25"/><rect x="1602" y="631" width="1" height="40" fill="#463c58" opacity="0.25"/><rect x="1755" y="616" width="1" height="12" fill="#463c58" opacity="0.25"/><rect x="1533" y="388" width="1" height="27" fill="#463c58" opacity="0.25"/><rect x="1746" y="632" width="1" height="40" fill="#463c58" opacity="0.25"/><rect x="1882" y="544" width="1" height="24" fill="#463c58" opacity="0.25"/><rect x="1661" y="570" width="1" height="43" fill="#463c58" opacity="0.25"/><rect x="1588" y="381" width="1" height="35" fill="#463c58" opacity="0.25"/><rect x="1513" y="634" width="1" height="10" fill="#463c58" opacity="0.25"/><rect x="1735" y="444" width="1" height="18" fill="#463c58" opacity="0.25"/><rect x="1693" y="438" width="1" height="48" fill="#463c58" opacity="0.25"/><rect x="1859" y="492" width="1" height="45" fill="#463c58" opacity="0.25"/><rect x="1859" y="290" width="1" height="43" fill="#463c58" opacity="0.25"/><rect x="1832" y="686" width="1" height="40" fill="#463c58" opacity="0.25"/><rect x="1600" y="310" width="1" height="36" fill="#463c58" opacity="0.25"/><rect x="1504" y="574" width="1" height="33" fill="#463c58" opacity="0.25"/><rect x="1828" y="382" width="1" height="22" fill="#463c58" opacity="0.25"/><rect x="1870" y="528" width="1" height="25" fill="#463c58" opacity="0.25"/><rect x="1688" y="420" width="1" height="36" fill="#463c58" opacity="0.25"/><rect x="1665" y="348" width="1" height="49" fill="#463c58" opacity="0.25"/><rect x="1860" y="574" width="1" height="21" fill="#463c58" opacity="0.25"/><rect x="1495" y="561" width="1" height="43" fill="#463c58" opacity="0.25"/><rect x="1737" y="313" width="1" height="39" fill="#463c58" opacity="0.25"/><rect x="1669" y="390" width="1" height="34" fill="#463c58" opacity="0.25"/><rect x="1630" y="522" width="1" height="40" fill="#463c58" opacity="0.25"/><rect x="1911" y="264" width="1" height="33" fill="#463c58" opacity="0.25"/><rect x="1891" y="526" width="1" height="33" fill="#463c58" opacity="0.25"/><rect x="1843" y="226" width="1" height="42" fill="#463c58" opacity="0.25"/><rect x="1721" y="491" width="1" height="22" fill="#463c58" opacity="0.25"/><rect x="1719" y="271" width="1" height="31" fill="#463c58" opacity="0.25"/><rect x="1529" y="657" width="1" height="42" fill="#463c58" opacity="0.25"/><rect x="1642" y="573" width="1" height="25" fill="#463c58" opacity="0.25"/><rect x="1669" y="288" width="1" height="44" fill="#463c58" opacity="0.25"/><rect x="1796" y="575" width="1" height="13" fill="#463c58" opacity="0.25"/><rect x="1825" y="217" width="1" height="33" fill="#463c58" opacity="0.25"/><rect x="1650" y="239" width="1" height="27" fill="#463c58" opacity="0.25"/><rect x="1861" y="510" width="1" height="23" fill="#463c58" opacity="0.25"/><rect x="1822" y="381" width="1" height="46" fill="#463c58" opacity="0.25"/><rect x="1604" y="248" width="1" height="49" fill="#463c58" opacity="0.25"/><rect x="1430" y="332" width="1" height="41" fill="#463c58" opacity="0.25"/><rect x="1454" y="472" width="1" height="44" fill="#463c58" opacity="0.25"/><rect x="1704" y="378" width="1" height="40" fill="#463c58" opacity="0.25"/><rect x="1828" y="489" width="1" height="35" fill="#463c58" opacity="0.25"/><rect x="1563" y="406" width="1" height="50" fill="#463c58" opacity="0.25"/><rect x="1905" y="212" width="1" height="18" fill="#463c58" opacity="0.25"/><rect x="1512" y="591" width="1" height="18" fill="#463c58" opacity="0.25"/><rect x="1482" y="578" width="1" height="17" fill="#463c58" opacity="0.25"/><rect x="1908" y="429" width="1" height="46" fill="#463c58" opacity="0.25"/><rect x="1825" y="310" width="1" height="41" fill="#463c58" opacity="0.25"/><rect x="1612" y="317" width="1" height="12" fill="#463c58" opacity="0.25"/><rect x="1764" y="480" width="1" height="22" fill="#463c58" opacity="0.25"/><rect x="1832" y="305" width="1" height="28" fill="#463c58" opacity="0.25"/><rect x="1439" y="379" width="1" height="45" fill="#463c58" opacity="0.25"/><rect x="1657" y="285" width="1" height="19" fill="#463c58" opacity="0.25"/><rect x="1733" y="344" width="1" height="45" fill="#463c58" opacity="0.25"/><rect x="1425" y="627" width="1" height="35" fill="#463c58" opacity="0.25"/><rect x="1826" y="381" width="1" height="13" fill="#463c58" opacity="0.25"/><rect x="1484" y="511" width="1" height="11" fill="#463c58" opacity="0.25"/><rect x="1451" y="586" width="1" height="45" fill="#463c58" opacity="0.25"/><rect x="1844" y="612" width="1" height="32" fill="#463c58" opacity="0.25"/><rect x="1854" y="545" width="1" height="32" fill="#463c58" opacity="0.25"/><rect x="1617" y="223" width="1" height="14" fill="#463c58" opacity="0.25"/><rect x="1525" y="432" width="1" height="15" fill="#463c58" opacity="0.25"/><rect x="1904" y="487" width="1" height="40" fill="#463c58" opacity="0.25"/><rect x="1863" y="319" width="1" height="45" fill="#463c58" opacity="0.25"/><rect x="1898" y="339" width="1" height="15" fill="#463c58" opacity="0.25"/><rect x="1815" y="637" width="1" height="42" fill="#463c58" opacity="0.25"/><rect x="1608" y="499" width="1" height="15" fill="#463c58" opacity="0.25"/><rect x="1517" y="412" width="1" height="40" fill="#463c58" opacity="0.25"/><rect x="1440" y="656" width="1" height="11" fill="#463c58" opacity="0.25"/><rect x="1904" y="325" width="1" height="43" fill="#463c58" opacity="0.25"/><rect x="1824" y="668" width="1" height="29" fill="#463c58" opacity="0.25"/><rect x="1761" y="351" width="1" height="43" fill="#463c58" opacity="0.25"/><rect x="1450" y="634" width="1" height="34" fill="#463c58" opacity="0.25"/><rect x="1426" y="662" width="1" height="23" fill="#463c58" opacity="0.25"/><rect x="1429" y="335" width="1" height="11" fill="#463c58" opacity="0.25"/><rect x="1541" y="551" width="1" height="50" fill="#463c58" opacity="0.25"/><rect x="1726" y="620" width="1" height="43" fill="#463c58" opacity="0.25"/><rect x="1770" y="395" width="1" height="20" fill="#463c58" opacity="0.25"/><rect x="1475" y="473" width="1" height="18" fill="#463c58" opacity="0.25"/><rect x="1783" y="365" width="1" height="33" fill="#463c58" opacity="0.25"/><rect x="1681" y="512" width="1" height="16" fill="#463c58" opacity="0.25"/><rect x="1528" y="541" width="1" height="19" fill="#463c58" opacity="0.25"/><rect x="1747" y="673" width="1" height="26" fill="#463c58" opacity="0.25"/><rect x="1900" y="505" width="1" height="48" fill="#463c58" opacity="0.25"/><rect x="1670" y="572" width="1" height="37" fill="#463c58" opacity="0.25"/><rect x="1496" y="459" width="1" height="33" fill="#463c58" opacity="0.25"/><rect x="1637" y="527" width="1" height="46" fill="#463c58" opacity="0.25"/><rect x="1812" y="600" width="1" height="16" fill="#463c58" opacity="0.25"/>
<path d="M1576,700 L1579,600 Q1581,553 1605,540 Q1640,520 1671,496 L1790,457 Q1812,470 1838,482 Q1880,492 1920,496 L1920,1080 L1576,1080 Z" fill="#2e2a4d"/>
<path d="M1796,509 L1782,690 L1800,690 Q1830,600 1870,560 Q1840,520 1820,480 Z" fill="#262443" opacity="0.8"/>
<path d="M1665,470 L1674,500 Q1700,525 1716,530 Q1760,510 1792,458 L1783,430 Z" fill="#c8a6b8"/>
<path d="M1674,498 Q1690,525 1715,530 Q1760,508 1791,457 L1796,509 L1782,690 L1643,690 L1660,600 L1668,556 Z" fill="#ebe9f4"/>
<path d="M1674,498 L1668,557 L1691,548 L1710,530 Q1690,520 1674,498 Z" fill="#dcdae8"/>
<path d="M1693,531 L1724,531 L1718,560 L1712,690 L1682,690 L1698,560 Z" fill="#535359"/>
<path d="M1808,664 L1872,652 L1890,690 L1858,702 L1815,692 Z" fill="#e8e6f2"/>
<path d="M1637.78,361.86 C1634.76,374.82 1635.19,375.25 1635.19,385.19 C1635.19,395.13 1636.05,409.82 1637.78,421.49 C1639.51,433.16 1641.24,445.25 1645.56,455.19 C1649.88,465.13 1655.50,473.77 1663.71,481.12 C1671.92,488.47 1684.45,496.68 1694.82,499.27 C1705.19,501.86 1715.56,499.70 1725.93,496.68 C1736.30,493.65 1748.40,488.03 1757.04,481.12 C1765.69,474.21 1773.25,465.13 1777.79,455.19 C1782.32,445.25 1782.54,434.88 1784.27,421.49 C1786.00,408.09 1788.80,392.10 1788.16,374.82 C1787.51,357.54 1788.16,331.61 1780.38,317.78 C1772.60,303.95 1756.61,297.04 1741.49,291.85 C1726.36,286.67 1704.33,284.08 1689.63,286.67 C1674.94,289.26 1661.98,294.88 1653.34,307.41 C1644.69,319.94 1640.81,348.89 1637.78,361.86 Z" fill="url(#fg)"/>
<ellipse cx="1712" cy="325" rx="48" ry="26" fill="#e4c8d8" opacity="0.8"/><ellipse cx="1696" cy="308" rx="8" ry="6" fill="#f4e4ee" opacity="0.9"/><ellipse cx="1735" cy="312" rx="10" ry="6" fill="#f4e4ee" opacity="0.8"/>
<ellipse cx="1695" cy="470" rx="28" ry="18" fill="#c898b4" opacity="0.5"/>
<path d="M1762.23,395.56 C1764.82,389.94 1777.79,398.59 1780.38,408.52 C1782.97,418.46 1781.67,443.09 1777.79,455.19 C1773.90,467.29 1765.69,474.21 1757.04,481.12 C1748.40,488.03 1727.66,497.97 1725.93,496.68 C1724.20,495.38 1740.19,482.42 1746.67,473.34 C1753.16,464.27 1762.23,455.19 1764.82,442.23 C1767.42,429.27 1759.64,401.18 1762.23,395.56 Z" fill="#a8809e" opacity="0.7"/>
<path d="M1782.97,426.67 C1784.92,434.02 1791.09,425.81 1794.64,421.49 C1798.18,417.17 1802.81,408.09 1804.23,400.75 C1805.66,393.40 1805.01,382.38 1803.19,377.41 C1801.38,372.44 1796.71,370.93 1793.34,370.93 C1789.97,370.93 1784.70,368.12 1782.97,377.41 C1781.24,386.70 1781.03,419.33 1782.97,426.67 Z" fill="#cba2b6"/>
<path d="M1639.00,345.00 C1638.83,338.00 1636.17,333.00 1640.00,323.00 C1643.83,313.00 1651.50,294.67 1662.00,285.00 C1672.50,275.33 1689.17,267.83 1703.00,265.00 C1716.83,262.17 1732.17,263.50 1745.00,268.00 C1757.83,272.50 1771.50,282.33 1780.00,292.00 C1788.50,301.67 1793.17,315.50 1796.00,326.00 C1798.83,336.50 1797.17,347.33 1797.00,355.00 C1796.83,362.67 1798.17,369.17 1795.00,372.00 C1791.83,374.83 1781.67,377.33 1778.00,372.00 C1774.33,366.67 1775.00,349.50 1773.00,340.00 C1771.00,330.50 1770.67,321.67 1766.00,315.00 C1761.33,308.33 1754.33,303.83 1745.00,300.00 C1735.67,296.17 1721.50,293.00 1710.00,292.00 C1698.50,291.00 1685.83,291.00 1676.00,294.00 C1666.17,297.00 1656.50,303.17 1651.00,310.00 C1645.50,316.83 1644.67,325.83 1643.00,335.00 C1641.33,344.17 1641.67,363.33 1641.00,365.00 C1640.33,366.67 1639.17,352.00 1639.00,345.00 Z" fill="#77716f"/>
<path d="M1770.00,300.00 C1772.67,296.33 1785.50,309.67 1790.00,318.00 C1794.50,326.33 1796.17,341.00 1797.00,350.00 C1797.83,359.00 1797.83,368.33 1795.00,372.00 C1792.17,375.67 1783.50,377.33 1780.00,372.00 C1776.50,366.67 1775.67,352.00 1774.00,340.00 C1772.33,328.00 1767.33,303.67 1770.00,300.00 Z" fill="#8a8898" opacity="0.8"/>
<path d="M1630.52,372.75 C1635.49,368.77 1653.86,371.45 1663.71,371.71 C1673.56,371.97 1685.66,370.33 1689.63,374.30 C1693.61,378.28 1688.86,389.86 1687.56,395.56 C1686.26,401.27 1685.83,405.85 1681.86,408.52 C1677.88,411.20 1670.19,411.64 1663.71,411.64 C1657.23,411.64 1647.94,411.20 1642.97,408.52 C1638.00,405.85 1635.97,401.52 1633.89,395.56 C1631.82,389.60 1625.55,376.72 1630.52,372.75 Z" fill="#cdb4c3" stroke="#19131a" stroke-width="6.5"/>
<path d="M1699.49,374.82 C1706.18,371.02 1727.49,372.75 1741.49,372.75 C1755.49,372.75 1777.01,371.02 1783.49,374.82 C1789.97,378.62 1782.19,389.73 1780.38,395.56 C1778.56,401.39 1779.08,406.88 1772.60,409.82 C1766.12,412.76 1751.64,413.41 1741.49,413.19 C1731.33,412.98 1718.37,411.46 1711.67,408.52 C1704.97,405.59 1703.33,401.18 1701.30,395.56 C1699.27,389.94 1692.79,378.62 1699.49,374.82 Z" fill="#cdb4c3" stroke="#19131a" stroke-width="6.5"/>
<path d="M1689,376 Q1694,372 1699,377 M1783,376 L1797,374" stroke="#19131a" stroke-width="5" fill="none"/>
<ellipse cx="1665" cy="389" rx="6" ry="4" fill="#6b5a52"/><ellipse cx="1725" cy="389" rx="6.5" ry="4" fill="#6b5a52"/>
<path d="M1689.63,395.56 C1687.91,399.02 1686.83,410.25 1684.45,416.30 C1682.07,422.35 1674.51,428.19 1675.37,431.86 C1676.24,435.53 1684.02,438.12 1689.63,438.34 C1695.25,438.56 1707.14,436.83 1709.08,433.16 C1711.02,429.48 1703.68,422.57 1701.30,416.30 C1698.92,410.04 1696.76,399.02 1694.82,395.56 C1692.88,392.10 1691.36,392.10 1689.63,395.56 Z" fill="#b88aa8" opacity="0.55"/><ellipse cx="1690" cy="428" rx="7" ry="6" fill="#e4c4d6" opacity="0.7"/><path d="M1679,437 Q1690,443 1703,437" stroke="#8a5a78" stroke-width="2.5" fill="none" opacity="0.7"/>
<path d="M1674.08,455.19 C1674.08,452.86 1687.91,449.49 1694.82,449.49 C1701.73,449.49 1715.56,452.86 1715.56,455.19 C1715.56,457.53 1701.73,463.49 1694.82,463.49 C1687.91,463.49 1674.08,457.53 1674.08,455.19 Z" fill="#a87090"/><path d="M1675,455 Q1693,451 1713,455" stroke="#5a3048" stroke-width="2" fill="none"/>
<path d="M1647,523 Q1650,548 1663,557 L1827,618 Q1852,628 1858,648 L1864,700" fill="none" stroke="#17171d" stroke-width="4"/>
<ellipse cx="1647" cy="524" rx="5" ry="7" fill="#17171d"/>
<rect x="1857" y="664" width="18" height="64" rx="4" fill="#1b1b22"/>
<rect x="1393" y="689" width="464" height="38" fill="#606367"/>
<path d="M1393,728 L1884,728 Q1891,730 1891,742 L1891,752 L1870,834 L1870,1080 L1393,1080 Z" fill="#09090f"/>
<rect x="1393" y="728" width="496" height="9" fill="#18171e"/>
<rect x="1393" y="740" width="496" height="2.5" fill="#aaa6b8" opacity="0.75"/>
<rect x="1393" y="848" width="444" height="65" fill="#25252b"/>
<rect x="1842" y="834" width="28" height="246" fill="#18181e"/>
<rect x="1894" y="916" width="26" height="27" fill="#ecebf4"/>
<rect x="1894" y="913" width="26" height="3" fill="#9a70c0" opacity="0.7"/>
<rect x="1393" y="213" width="527" height="1.5" fill="#0e1a2c"/>
</g>
</svg>
</body></html>
